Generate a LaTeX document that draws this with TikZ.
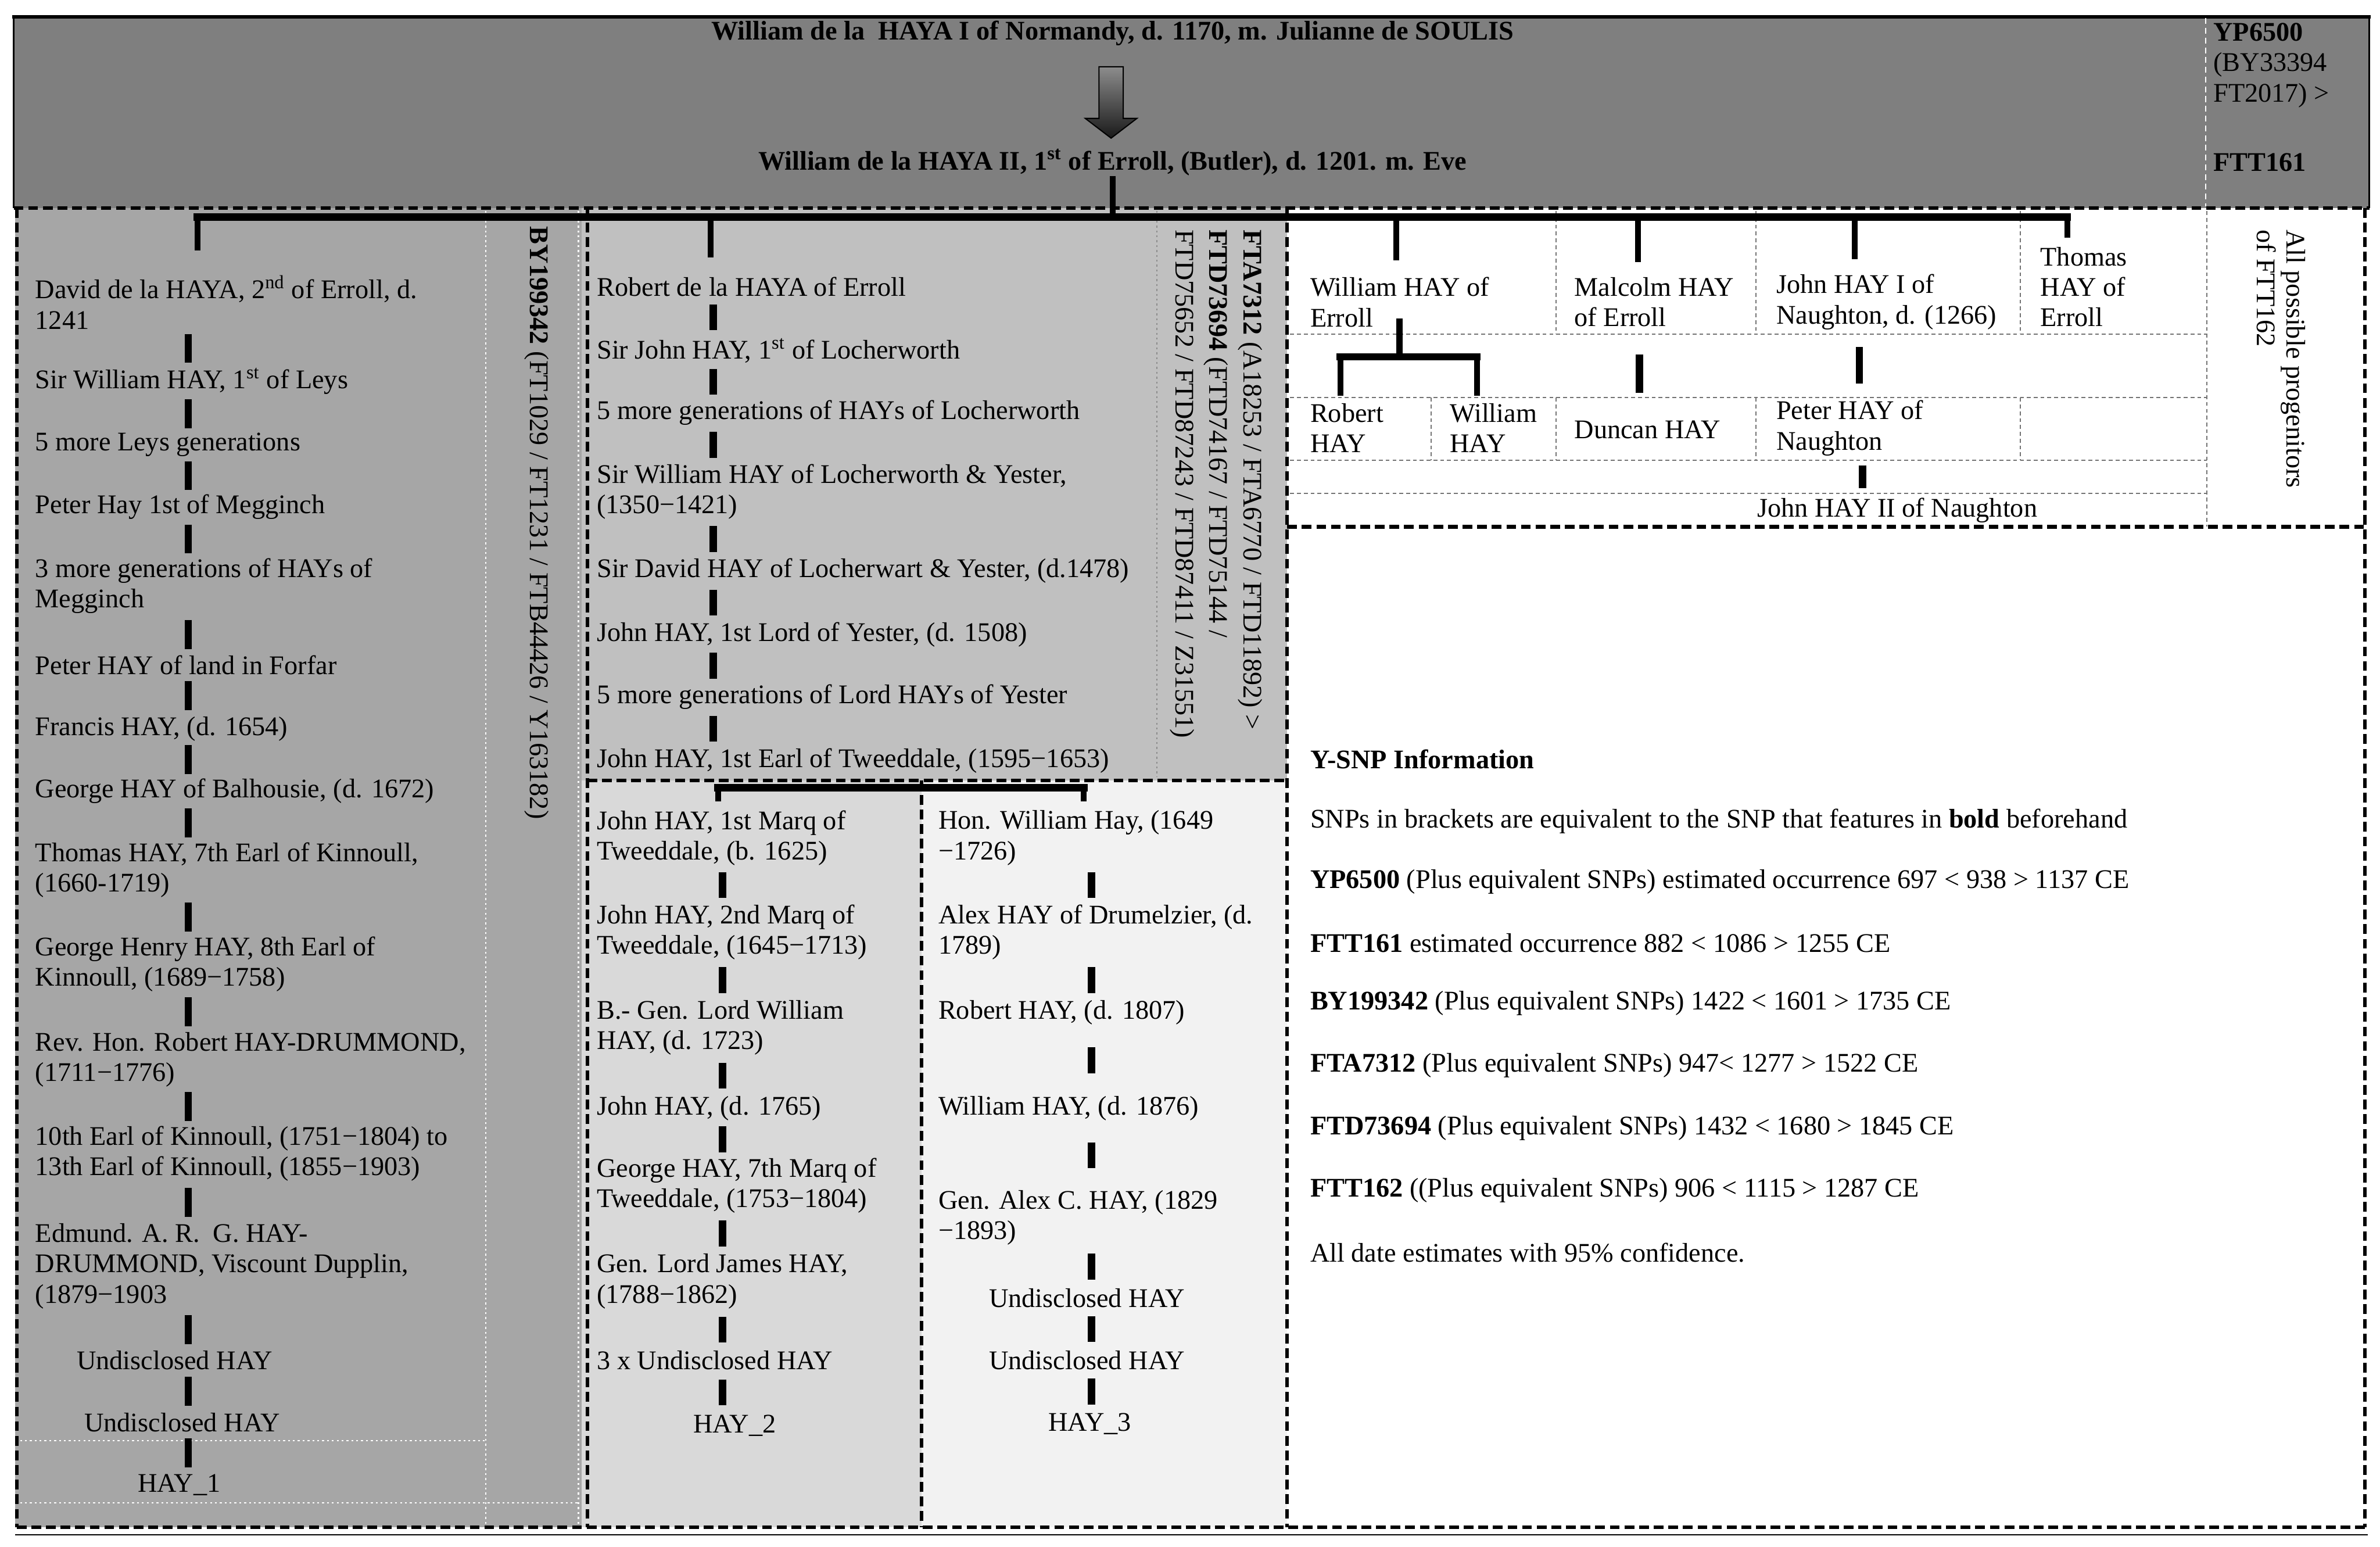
\documentclass[tikz,border=0pt]{standalone}
\usepackage{fontspec}
\setmainfont{Liberation Serif}
\usetikzlibrary{calc}
\definecolor{hdr}{RGB}{127,127,127}
\definecolor{colA}{RGB}{166,166,166}
\definecolor{colB}{RGB}{192,192,192}
\definecolor{colC}{RGB}{217,217,217}
\definecolor{colD}{RGB}{242,242,242}
\newcommand\tickc[4][9]{\draw[tick] ($(#2.south -| #4)!.5!(#3.north -| #4)$) ++(0,-#1) -- ++(0,2*#1);}
\begin{document}
\begin{tikzpicture}[x=0.02737cm,y=-0.02737cm,
  txt/.style={font=\fontsize{13.8}{15.6}\selectfont, inner sep=0pt, align=left, anchor=west},
  ctxt/.style={font=\fontsize{13.8}{15.6}\selectfont, inner sep=0pt, anchor=center},
  htxt/.style={font=\fontsize{13.8}{15.6}\selectfont\bfseries, inner sep=0pt},
  rot/.style={rotate=-90, anchor=north west, inner sep=0pt, align=left},
  tick/.style={line width=3.8pt},
  drop/.style={line width=3pt},
  barline/.style={line width=3.8pt, line cap=rect},
  dsh/.style={line width=1.8pt, dash pattern=on 5pt off 2.5pt},
  thindash/.style={black!55, line width=0.6pt, dash pattern=on 2pt off 1.5pt},
  wdot/.style={white, line width=0.8pt, dash pattern=on 1pt off 1.5pt},
  gdot/.style={black!45, line width=0.6pt, dash pattern=on 1pt off 1.5pt}]
\useasboundingbox (0,0) rectangle (1568,1019);
\fill[white] (0,0) rectangle (1568,1019);
% fills
\fill[hdr] (9,11) rectangle (1561,137);
\fill[colA] (10,137) rectangle (383,1006);
\fill[colB] (383,137) rectangle (848,514);
\fill[colC] (383,514) rectangle (607,1006);
\fill[colD] (607,514) rectangle (848,1006);
% header frame
\draw[line width=1.9pt] (8,11) -- (1562,11);
\draw[line width=0.8pt] (9,11) -- (9,137);
\draw[line width=0.8pt] (1561,11) -- (1561,137);
\draw[white, line width=0.6pt, dash pattern=on 3pt off 2pt] (1453,12) -- (1453,136);
% dotted lines
\draw[wdot] (320,139) -- (320,1006);
\draw[wdot] (381,139) -- (381,1006);
\draw[wdot] (10,949) -- (320,949);
\draw[wdot] (10,990) -- (381,990);
\draw[gdot] (762,139) -- (762,512);
% right top grid
\draw[thindash] (1025,139) -- (1025,220);
\draw[thindash] (1157,139) -- (1157,220);
\draw[thindash] (1331,139) -- (1331,220);
\draw[thindash] (850,220) -- (1454,220);
\draw[thindash] (850,262) -- (1454,262);
\draw[thindash] (943,262) -- (943,303);
\draw[thindash] (1025,262) -- (1025,303);
\draw[thindash] (1157,262) -- (1157,303);
\draw[thindash] (1331,262) -- (1331,303);
\draw[thindash] (850,303) -- (1454,303);
\draw[thindash] (850,325) -- (1454,325);
\draw[thindash] (1454,139) -- (1454,347);
% dashed frames
\draw[dsh] (9,137) -- (1561,137);
\draw[dsh] (11,137) -- (11,1006);
\draw[dsh] (387,137) -- (387,1006);
\draw[dsh] (848,137) -- (848,1006);
\draw[dsh] (1558,137) -- (1558,1006);
\draw[dsh] (11,1006) -- (1558,1006);
\draw[dsh] (387,514) -- (848,514);
\draw[dsh] (607,514) -- (607,1006);
\draw[dsh, line width=2.2pt] (848,347) -- (1558,347);
\draw[line width=0.6pt] (10,1011) -- (1560,1011);

% header
\node[htxt] (H1) at (733,22) {William de la\ \ HAYA I of Normandy, d. 1170, m. Julianne de SOULIS};
\node[htxt] (H2) at (733,107) {William de la HAYA II, 1\textsuperscript{st} of Erroll, (Butler), d. 1201. m. Eve};
\node[txt, align=left] (H3) at (1458,43) {\textbf{YP6500}\\(BY33394\\FT2017) >};
\node[txt, font=\fontsize{13.8}{15.6}\selectfont\bfseries] (H4) at (1458,107) {FTT161};
\shade[top color=black!45, bottom color=black!90, draw=black, line width=0.6pt]
  (724,44) -- (740,44) -- (740,78) -- (749,78) -- (732,91) -- (715,78) -- (724,78) -- cycle;

% left column
\node[txt] (L1) at (23,199) {David de la HAYA, 2\textsuperscript{nd} of Erroll, d.\\1241};
\node[txt] (L2) at (23,251) {Sir William HAY, 1\textsuperscript{st} of Leys};
\node[txt] (L3) at (23,293) {5 more Leys generations};
\node[txt] (L4) at (23,334) {Peter Hay 1st of Megginch};
\node[txt] (L5) at (23,386) {3 more generations of HAYs of\\Megginch};
\node[txt] (L6) at (23,438) {Peter HAY of land in Forfar};
\node[txt] (L7) at (23,480) {Francis HAY, (d. 1654)};
\node[txt] (L8) at (23,521) {George HAY of Balhousie, (d. 1672)};
\node[txt] (L9) at (23,573) {Thomas HAY, 7th Earl of Kinnoull,\\(1660-1719)};
\node[txt] (L10) at (23,635) {George Henry HAY, 8th Earl of\\Kinnoull, (1689−1758)};
\node[txt] (L11) at (23,698) {Rev. Hon. Robert HAY-DRUMMOND,\\(1711−1776)};
\node[txt] (L12) at (23,760) {10th Earl of Kinnoull, (1751−1804) to\\13th Earl of Kinnoull, (1855−1903)};
\node[txt] (L13) at (23,834) {Edmund. A. R.\ \ G. HAY-\\DRUMMOND, Viscount Dupplin,\\(1879−1903};
\node[ctxt] (L14) at (115,896) {Undisclosed HAY};
\node[ctxt] (L15) at (120,937) {Undisclosed HAY};
\node[ctxt] (L16) at (118,978) {HAY\_1};
\coordinate (lx) at (124,0);
\tickc[9.5]{L1}{L2}{lx}
\tickc[9.5]{L2}{L3}{lx}
\tickc[9.5]{L3}{L4}{lx}
\tickc[9.5]{L4}{L5}{lx}
\tickc[9.5]{L5}{L6}{lx}
\tickc[9.5]{L6}{L7}{lx}
\tickc[9.5]{L7}{L8}{lx}
\tickc[9.5]{L8}{L9}{lx}
\tickc[9.5]{L9}{L10}{lx}
\tickc[9.5]{L10}{L11}{lx}
\tickc[9.5]{L11}{L12}{lx}
\tickc[9.5]{L12}{L13}{lx}
\tickc[9.5]{L13}{L14}{lx}
\tickc[9.5]{L14}{L15}{lx}
\tickc[9.5]{L15}{L16}{lx}
\node[rot, font=\fontsize{13.8}{15.6}\selectfont] (BY) at (362,149) {\textbf{BY199342} (FT1029 / FT1231 / FTB44426 / Y163182)};

% middle upper
\node[txt] (M1) at (393,189) {Robert de la HAYA of Erroll};
\node[txt] (M2) at (393,231) {Sir John HAY, 1\textsuperscript{st} of Locherworth};
\node[txt] (M3) at (393,272) {5 more generations of HAYs of Locherworth};
\node[txt] (M4) at (393,324) {Sir William HAY of Locherworth \& Yester,\\(1350−1421)};
\node[txt] (M5) at (393,376) {Sir David HAY of Locherwart \& Yester, (d.1478)};
\node[txt] (M6) at (393,418) {John HAY, 1st Lord of Yester, (d. 1508)};
\node[txt] (M7) at (393,459) {5 more generations of Lord HAYs of Yester};
\node[txt] (M8) at (393,501) {John HAY, 1st Earl of Tweeddale, (1595−1653)};
\coordinate (mx) at (470,0);
\tickc[8.5]{M1}{M2}{mx}
\tickc[8.5]{M2}{M3}{mx}
\tickc[8.5]{M3}{M4}{mx}
\tickc[8.5]{M4}{M5}{mx}
\tickc[8.5]{M5}{M6}{mx}
\tickc[8.5]{M6}{M7}{mx}
\tickc[8.5]{M7}{M8}{mx}
\node[rot, font=\fontsize{13.8}{17.5}\selectfont] (FTA) at (832,151) {\textbf{FTA7312} (A18253 / FTA6770 / FTD11892) >\\\textbf{FTD73694} (FTD74167 / FTD75144 /\\FTD75652 / FTD87243 / FTD87411 / Z31551)};

% lower middle left
\node[txt] (N1) at (393,552) {John HAY, 1st Marq of\\Tweeddale, (b. 1625)};
\node[txt] (N2) at (393,614) {John HAY, 2nd Marq of\\Tweeddale, (1645−1713)};
\node[txt] (N3) at (393,677) {B.- Gen. Lord William\\HAY, (d. 1723)};
\node[txt] (N4) at (393,730) {John HAY, (d. 1765)};
\node[txt] (N5) at (393,781) {George HAY, 7th Marq of\\Tweeddale, (1753−1804)};
\node[txt] (N6) at (393,844) {Gen. Lord James HAY,\\(1788−1862)};
\node[txt] (N7) at (393,896) {3 x Undisclosed HAY};
\node[ctxt] (N8) at (484,939) {HAY\_2};
\coordinate (nx) at (476,0);
\tickc[8.5]{N1}{N2}{nx}
\tickc[8.5]{N2}{N3}{nx}
\tickc[8.5]{N3}{N4}{nx}
\tickc[8.5]{N4}{N5}{nx}
\tickc[8.5]{N5}{N6}{nx}
\tickc[8.5]{N6}{N7}{nx}
\tickc[8.5]{N7}{N8}{nx}

% lower middle right
\node[txt] (P1) at (618,552) {Hon. William Hay, (1649\\−1726)};
\node[txt] (P2) at (618,614) {Alex HAY of Drumelzier, (d.\\1789)};
\node[txt] (P3) at (618,667) {Robert HAY, (d. 1807)};
\node[txt] (P4) at (618,730) {William HAY, (d. 1876)};
\node[txt] (P5) at (618,802) {Gen. Alex C. HAY, (1829\\−1893)};
\node[ctxt] (P6) at (716,855) {Undisclosed HAY};
\node[ctxt] (P7) at (716,896) {Undisclosed HAY};
\node[ctxt] (P8) at (718,938) {HAY\_3};
\coordinate (px) at (719,0);
\tickc[8.5]{P1}{P2}{px}
\tickc[8.5]{P2}{P3}{px}
\tickc[8.5]{P3}{P4}{px}
\tickc[8.5]{P4}{P5}{px}
\tickc[8.5]{P5}{P6}{px}
\tickc[8.5]{P6}{P7}{px}
\tickc[8.5]{P7}{P8}{px}
\coordinate (mb1) at (473,519);
\coordinate (mb2) at (714,519);
\draw[barline] (mb1) -- (mb2);
\draw[drop, shorten >=4.5pt] (mb1) -- (mb1 |- N1.north);
\draw[drop, shorten >=4.5pt] (mb2) -- (mb2 |- P1.north);

% right top
\node[txt] (R1) at (863,199) {William HAY of\\Erroll};
\node[txt] (R2) at (1037,199) {Malcolm HAY\\of Erroll};
\node[txt] (R3) at (1170,199) {John HAY I of\\Naughton, d. (1266)};
\node[txt] (R4) at (1344,189) {Thomas\\HAY of\\Erroll};
\node[txt] (R5) at (863,282) {Robert\\HAY};
\node[txt] (R6) at (955,282) {William\\HAY};
\node[txt] (R7) at (1037,283) {Duncan HAY};
\node[txt] (R8) at (1170,282) {Peter HAY of\\Naughton};
\node[ctxt] (R9) at (1250,336) {John HAY II of Naughton};
\node[rot, font=\fontsize{13.8}{15}\selectfont] (ALL) at (1519,151) {All possible progenitors\\of FTT162};
\coordinate (sx) at (922,0);
\coordinate (sb1) at (883,235);
\coordinate (sb2) at (973,235);
\draw[drop, shorten <=-4.5pt] (sx |- R1.south) -- (sx |- sb1);
\draw[barline] (sb1) -- (sb2);
\draw[drop, shorten >=3.9pt] (sb1) -- (sb1 |- R5.north);
\draw[drop, shorten >=3.9pt] (sb2) -- (sb2 |- R6.north);
\coordinate (rx2) at (1080,0);
\coordinate (rx3) at (1225,0);
\coordinate (rx4) at (1227,0);
\tickc[12.5]{R2}{R7}{rx2}
\tickc[12]{R3}{R8}{rx3}
\tickc[7.5]{R8}{R9}{rx4}

% main bar
\coordinate (bL) at (130,143);
\coordinate (bR) at (1362,143);
\coordinate (d2) at (468,143);
\coordinate (d3) at (920,143);
\coordinate (d4) at (1079,143);
\coordinate (d5) at (1222,143);
\draw[drop] (H2.south) -- (H2.south |- bL);
\draw[barline] (bL) -- (bR);
\draw[drop, shorten >=12.4pt] (bL) -- (bL |- L1.north);
\draw[drop, shorten >=10pt] (d2) -- (d2 |- M1.north);
\draw[drop, shorten >=8.5pt] (d3) -- (d3 |- R1.north);
\draw[drop, shorten >=7.8pt] (d4) -- (d4 |- R2.north);
\draw[drop, shorten >=7.8pt] (d5) -- (d5 |- R3.north);
\draw[drop, shorten >=4.7pt] (bR) -- (bR |- R4.north);

% right bottom
\node[txt] (S0) at (863,500) {\textbf{Y-SNP Information}};
\node[txt] (S1) at (863,541) {SNPs in brackets are equivalent to the SNP that features in \textbf{bold} beforehand};
\node[txt] (S2) at (863,581) {\textbf{YP6500} (Plus equivalent SNPs) estimated occurrence 697 < 938 > 1137 CE};
\node[txt] (S3) at (863,621) {\textbf{FTT161} estimated occurrence 882 < 1086 > 1255 CE};
\node[txt] (S4) at (863,661) {\textbf{BY199342} (Plus equivalent SNPs) 1422 < 1601 > 1735 CE};
\node[txt] (S5) at (863,702) {\textbf{FTA7312} (Plus equivalent SNPs) 947< 1277 > 1522 CE};
\node[txt] (S6) at (863,743) {\textbf{FTD73694} (Plus equivalent SNPs) 1432 < 1680 > 1845 CE};
\node[txt] (S7) at (863,784) {\textbf{FTT162} ((Plus equivalent SNPs) 906 < 1115 > 1287 CE};
\node[txt] (S8) at (863,825) {All date estimates with 95\% confidence.};
\end{tikzpicture}
\end{document}
